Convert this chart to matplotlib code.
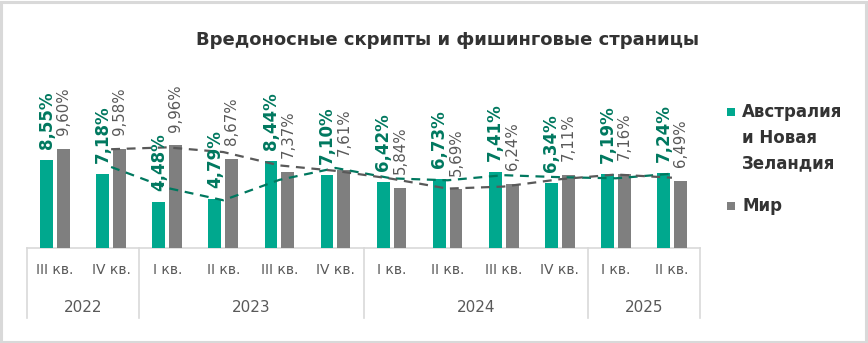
import matplotlib
matplotlib.use("Agg")
import matplotlib.pyplot as plt
from matplotlib.patches import Rectangle
from matplotlib.lines import Line2D
import pandas as pd
import numpy as np

quarters = ["III кв.", "IV кв.", "I кв.", "II кв.", "III кв.", "IV кв.",
            "I кв.", "II кв.", "III кв.", "IV кв.", "I кв.", "II кв."]
years = ["2022", "2023", "2024", "2025"]
year_counts = [2, 4, 4, 2]
anz = [8.55, 7.18, 4.48, 4.79, 8.44, 7.10, 6.42, 6.73, 7.41, 6.34, 7.19, 7.24]
world = [9.60, 9.58, 9.96, 8.67, 7.37, 7.61, 5.84, 5.69, 6.24, 7.11, 7.16, 6.49]
series_names = ["Австралия\nи Новая\nЗеландия", "Мир"]
title = "Вредоносные скрипты и фишинговые страницы"

GREEN = "#00A88E"
GREEN_DARK = "#00785F"
GRAY = "#7F7F7F"
GRAY_DARK = "#595959"
LINE = "#D9D9D9"

W, H = 868, 343
fig = plt.figure(figsize=(W / 100, H / 100), dpi=100)
fig.patch.set_facecolor("white")

# outer frame
fig.add_artist(Rectangle((1 / W, 1 / H), 1 - 3 / W, 1 - 3 / H, transform=fig.transFigure,
                         fill=False, edgecolor=LINE, linewidth=2.2))

left_px, right_px, base_px, top_px = 27, 700, 248, 80
ax = fig.add_axes([left_px / W, 1 - base_px / H, (right_px - left_px) / W, (base_px - top_px) / H])
ax.set_xlim(-0.5, len(quarters) - 0.5)
px_per_unit = 10.3
ax.set_ylim(0, (base_px - top_px) / px_per_unit)
ax.axis("off")

x = np.arange(len(quarters))
bw = 0.23
off = 0.15
ax.bar(x - off, anz, width=bw, color=GREEN, zorder=2)
ax.bar(x + off, world, width=bw, color=GRAY, zorder=2)

def fmt(v):
    return f"{v:.2f}".replace(".", ",") + "%"

for xi, v in zip(x, anz):
    ax.annotate(fmt(v), (xi - off, v), xytext=(0, 8), textcoords="offset points",
                rotation=90, ha="center", va="bottom", fontsize=12, fontweight="bold",
                color=GREEN_DARK, zorder=5, annotation_clip=False)
for xi, v in zip(x, world):
    ax.annotate(fmt(v), (xi + off, v), xytext=(0, 10), textcoords="offset points",
                rotation=90, ha="center", va="bottom", fontsize=10.8,
                color=GRAY_DARK, zorder=5, annotation_clip=False)

# 2-period moving average trend lines
ma_anz = pd.Series(anz).rolling(2).mean()
ma_world = pd.Series(world).rolling(2).mean()
ax.plot(x, ma_anz, linestyle=(0, (4, 3)), color=GREEN_DARK, linewidth=1.6, zorder=3)
ax.plot(x, ma_world, linestyle=(0, (4, 3)), color=GRAY_DARK, linewidth=1.6, zorder=3)

# category axis
ah = base_px - top_px
def yax(py):
    return (base_px - py) / ah

ax.add_line(Line2D([-0.5, len(quarters) - 0.5], [0, 0], color=LINE, linewidth=1.2,
                   clip_on=False, zorder=1))
bounds = [-0.5]
for c in year_counts:
    bounds.append(bounds[-1] + c)
trans = ax.get_xaxis_transform()
for b in bounds:
    ax.add_line(Line2D([b, b], [0, yax(318)], color=LINE, linewidth=1.2,
                       transform=trans, clip_on=False))
for xi, q in zip(x, quarters):
    ax.text(xi, yax(270), q, transform=trans, ha="center", va="center",
            fontsize=10, color=GRAY_DARK)
for i, (yr, c) in enumerate(zip(years, year_counts)):
    mid = (bounds[i] + bounds[i + 1]) / 2
    ax.text(mid, yax(307), yr, transform=trans, ha="center", va="center",
            fontsize=11, color=GRAY_DARK)

# title
fig.text(448 / W, 1 - 40 / H, title, ha="center", va="center", fontsize=13,
         fontweight="bold", color="#333333")

# legend
fig.add_artist(Rectangle((727 / W, 1 - 116 / H), 8 / W, 8 / H, transform=fig.transFigure,
                         facecolor=GREEN, edgecolor="none"))
fig.text(742 / W, 1 - 103 / H, series_names[0], ha="left", va="top", fontsize=12,
         fontweight="bold", color="#333333", linespacing=1.55)
fig.add_artist(Rectangle((727 / W, 1 - 210 / H), 8 / W, 8 / H, transform=fig.transFigure,
                         facecolor=GRAY, edgecolor="none"))
fig.text(742 / W, 1 - 206 / H, series_names[1], ha="left", va="center", fontsize=12,
         fontweight="bold", color="#333333")

fig.savefig("out.png", dpi=100, facecolor="white")
